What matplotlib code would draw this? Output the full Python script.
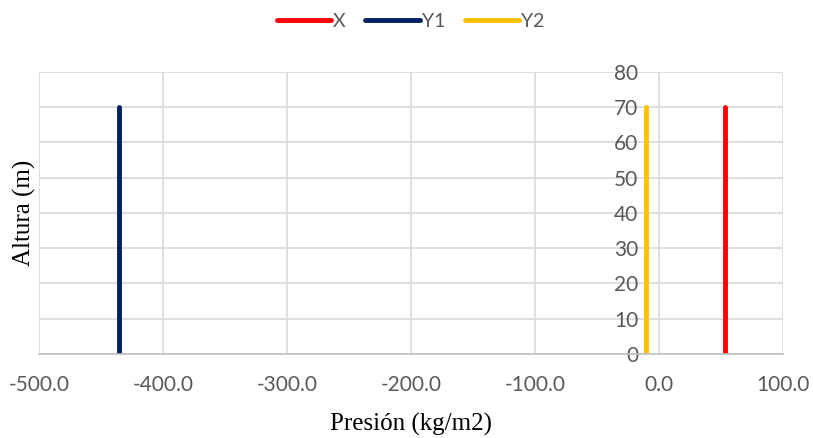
import matplotlib.pyplot as plt
from matplotlib.ticker import FormatStrFormatter

# presion constante por serie, altura 0-70 m
altura = [0, 70]
presion_x = [53.2, 53.2]
presion_y1 = [-435.5, -435.5]
presion_y2 = [-10.5, -10.5]

series = ['X', 'Y1', 'Y2']
colores = ['#FF0000', '#002060', '#FFC000']

xticks = [-500, -400, -300, -200, -100, 0, 100]
yticks = [0, 10, 20, 30, 40, 50, 60, 70, 80]

plt.rcParams['font.family'] = ['Lato', 'DejaVu Sans']

fig = plt.figure(figsize=(8.13, 4.38), dpi=100)
ax = fig.add_axes([0.048, 0.192, 0.915, 0.644])

for pres, nombre, c in zip([presion_x, presion_y1, presion_y2], series, colores):
    ax.plot(pres, altura, color=c, lw=3.5, label=nombre, solid_capstyle='round')

ax.set_xlim(-500, 100)
ax.set_ylim(0, 80)
ax.set_xticks(xticks)
ax.set_yticks(yticks)
ax.xaxis.set_major_formatter(FormatStrFormatter('%.1f'))
ax.grid(True, color='#D9D9D9', lw=1.2)
ax.set_axisbelow(True)

# eje vertical cruza en x=0
ax.spines['left'].set_position(('data', 0))
ax.spines['left'].set_color('none')
for s in ['top', 'right']:
    ax.spines[s].set_visible(False)
ax.spines['bottom'].set_color('#BFBFBF')
ax.spines['bottom'].set_linewidth(1.2)

ax.tick_params(axis='both', length=0, labelsize=15, labelcolor='#595959')
ax.tick_params(axis='x', pad=15)
ax.tick_params(axis='y', pad=15)

ax.set_xlabel('Presión (kg/m2)', family='Liberation Serif', fontsize=18, labelpad=13)
ax.set_ylabel('Altura (m)', family='Liberation Serif', fontsize=18)
ax.yaxis.set_label_coords(-0.004, 0.5)

fig.legend(loc='upper center', ncol=3, bbox_to_anchor=(0.505, 1.01), frameon=False,
           prop={'size': 14}, handlelength=2.8, columnspacing=1.0,
           handletextpad=0.1, labelcolor='#595959')

fig.savefig('out.png', dpi=100)
